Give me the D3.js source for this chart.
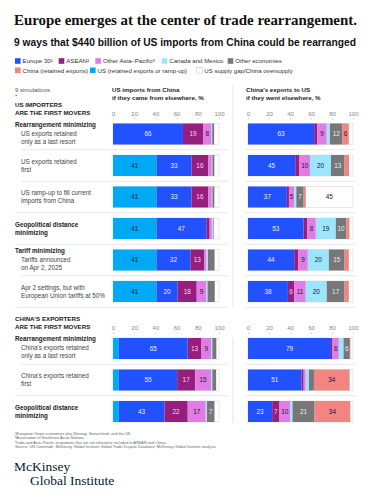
<!DOCTYPE html>
<html>
<head>
<meta charset="utf-8">
<script src="https://cdn.jsdelivr.net/npm/d3@7"></script>
<style>
  body { margin: 0; background: #fff; }
  svg { display: block; }
  text { font-family: "Liberation Sans", Arial, sans-serif; }
  text.serif { font-family: "Liberation Serif", "Times New Roman", serif; }
</style>
</head>
<body>
<div id="chart-container"></div>
<script>
// Series keys, in stacking order
const keys = ["us", "europe", "asean", "otherAP", "canMex", "other", "china", "gap"];
const legendNames = {
  europe: "Europe 30¹", asean: "ASEAN²", otherAP: "Other Asia–Pacific³",
  canMex: "Canada and Mexico", other: "Other economies",
  china: "China (retained exports)", us: "US (retained exports or ramp-up)",
  gap: "US supply gap/China oversupply"
};
const colors = {
  us: "#00a9f4", europe: "#2251ff", asean: "#961f7d", otherAP: "#e07ce4",
  canMex: "#9ce5fd", other: "#777777", china: "#f28482", gap: "#ffffff"
};

// Row labels (9 simulations)
const rowGroups = ["Rearrangement minimizing", "", "", "Geopolitical distance|minimizing",
  "Tariff minimizing", "", "Rearrangement minimizing", "", "Geopolitical distance|minimizing"];
const rowLabels = ["US exports retained|only as a last resort", "US exports retained|first",
  "US ramp-up to fill current|imports from China", "", "Tariffs announced|on Apr 2, 2025",
  "Apr 2 settings, but with|European Union tariffs at 50%",
  "China's exports retained|only as a last resort", "China's exports retained|first", ""];
const rowSection = [0, 0, 0, 0, 0, 0, 1, 1, 1];

// Left panel: US imports from China if they came from elsewhere, %
// (unlabeled slivers are estimates, so they carry decimals)
const leftUs      = [0, 41, 41, 41, 41, 41, 5.5, 5.5, 5.5];
const leftEurope  = [66, 33, 33, 47, 32, 20, 65, 55, 43];
const leftAsean   = [19, 16, 16, 3.2, 13, 18, 13, 17, 22];
const leftOtherAP = [8, 3.2, 3.2, 2.1, 2.2, 9, 9, 15, 17];
const leftCanMex  = [0.6, 0.6, 0.6, 1.5, 1.4, 1.2, 1.2, 1.2, 1.2];
const leftOther   = [1.8, 1.8, 1.8, 0.5, 6.2, 6.8, 3.8, 3.6, 7];
const leftChina   = [0, 0, 0, 0, 0, 0, 0, 0, 0];
const leftGap     = [4.6, 4.4, 4.4, 4.7, 4.2, 4, 2.5, 2.7, 4.3];

// Right panel: China's exports to US if they went elsewhere, %
const rightUs      = [0, 0, 0, 0, 0, 0, 0, 0, 0];
const rightEurope  = [63, 45, 37, 53, 44, 38, 79, 51, 23];
const rightAsean   = [3, 4, 2, 3.6, 4, 6, 1.5, 2, 7];
const rightOtherAP = [9, 10, 5, 8, 9, 11, 6, 2, 10];
const rightCanMex  = [3, 20, 2, 19, 20, 20, 4.5, 3, 2.4];
const rightOther   = [12, 13, 7, 10, 15, 17, 6, 4.8, 21];
const rightChina   = [6, 4.2, 2, 3, 4, 4, 0.5, 34, 34];
const rightGap     = [4, 3.8, 45, 3.4, 4, 4, 2.5, 3.2, 2.6];

const ticks = [0, 20, 40, 60, 80, 100];

const footnotes = [
  "¹European Union economies plus Norway, Switzerland, and the UK.",
  "²Association of Southeast Asian Nations.",
  "³India and Asia–Pacific economies that are not otherwise included in ASEAN and China.",
  "Source: UN Comtrade; McKinsey Global Institute Global Trade Dispute Database; McKinsey Global Institute analysis"
];

// Build row objects for d3.stack
function buildRows(s) {
  return rowLabels.map((_, i) => {
    const o = { i };
    keys.forEach(k => o[k] = s[k][i]);
    return o;
  });
}
const leftData = buildRows({ us: leftUs, europe: leftEurope, asean: leftAsean, otherAP: leftOtherAP,
  canMex: leftCanMex, other: leftOther, china: leftChina, gap: leftGap });
const rightData = buildRows({ us: rightUs, europe: rightEurope, asean: rightAsean, otherAP: rightOtherAP,
  canMex: rightCanMex, other: rightOther, china: rightChina, gap: rightGap });

const W = 373, H = 500;
const svg = d3.select("#chart-container").append("svg")
  .attr("width", W).attr("height", H);

// Title and subtitle
svg.append("text").attr("class", "serif").attr("x", 14).attr("y", 25)
  .attr("textLength", 343).attr("lengthAdjust", "spacingAndGlyphs")
  .style("font-size", "15.5px").style("font-weight", "bold").attr("fill", "#111")
  .text("Europe emerges at the center of trade rearrangement.");
svg.append("text").attr("x", 14).attr("y", 45.5)
  .attr("textLength", 342).attr("lengthAdjust", "spacingAndGlyphs")
  .style("font-size", "10.2px").style("font-weight", "bold").attr("fill", "#111")
  .text("9 ways that $440 billion of US imports from China could be rearranged");

// Legend
const legendItems = [
  { k: "europe", x: 15, y: 61 }, { k: "asean", x: 58.7, y: 61 }, { k: "otherAP", x: 95.3, y: 61 },
  { k: "canMex", x: 161.7, y: 61 }, { k: "other", x: 227.7, y: 61 },
  { k: "china", x: 15, y: 70.3 }, { k: "us", x: 90, y: 70.3 }, { k: "gap", x: 196.7, y: 70.3 }
];
const lg = svg.append("g").selectAll("g").data(legendItems).join("g")
  .attr("transform", d => `translate(${d.x},${d.y})`);
lg.append("rect").attr("x", 0).attr("y", -2.8).attr("width", 5.6).attr("height", 5.6)
  .attr("fill", d => colors[d.k]).attr("stroke", d => d.k === "gap" ? "#ccc" : "none").attr("stroke-width", 0.6);
lg.append("text").attr("x", 7.6).attr("y", 2.2).style("font-size", "6.1px").attr("fill", "#333")
  .text(d => legendNames[d.k]);

// Column headers
svg.append("text").attr("x", 15).attr("y", 91.5).style("font-size", "6px")
  .attr("fill", "#555").text("9 simulations");
svg.append("circle").attr("cx", 16.2).attr("cy", 95.5).attr("r", 0.7).attr("fill", "#555");

const colHeads = [
  { x: 112, lines: ["US imports from China", "if they came from elsewhere, %"] },
  { x: 246, lines: ["China's exports to US", "if they went elsewhere, %"] }
];
colHeads.forEach(h => {
  h.lines.forEach((t, j) => svg.append("text").attr("x", h.x).attr("y", 91.5 + j * 8)
    .style("font-size", "6.2px").style("font-weight", "bold").attr("fill", "#222").text(t));
});

// Section headers
const secHeads = [
  { y: 106.5, lines: ["US IMPORTERS", "ARE THE FIRST MOVERS"] },
  { y: 321.3, lines: ["CHINA'S EXPORTERS", "ARE THE FIRST MOVERS"] }
];
secHeads.forEach(h => {
  h.lines.forEach((t, j) => svg.append("text").attr("x", 15).attr("y", h.y + j * 8)
    .style("font-size", "6.2px").style("font-weight", "bold").attr("fill", "#222").text(t));
});

// Scales
const xLeft = d3.scaleLinear().domain([0, 100]).range([113, 219]);
const xRight = d3.scaleLinear().domain([0, 100]).range([248, 353]);
const yScales = [
  d3.scaleBand().domain([0, 1, 2, 3, 4, 5]).range([118.25, 307.25]).paddingInner(1 / 3).paddingOuter(1 / 6),
  d3.scaleBand().domain([6, 7, 8]).range([332.75, 427.25]).paddingInner(1 / 3).paddingOuter(1 / 6)
];
const yRow = i => yScales[rowSection[i]](i);
const bh = yScales[0].bandwidth();
const axisY = [119.5, 334.3];

// Axes
[xLeft, xRight].forEach(x => {
  axisY.forEach(ay => {
    const g = svg.append("g").attr("transform", `translate(0,${ay})`)
      .call(d3.axisTop(x).tickValues(ticks).tickSize(1.8).tickPadding(2.2));
    g.select(".domain").remove();
    g.selectAll(".tick line").attr("stroke", "#bbb").attr("stroke-width", 0.6);
    g.selectAll(".tick text").attr("fill", "#888").style("font-size", "6px")
      .style("font-family", "'Liberation Sans', Arial, sans-serif");
  });
});

// Vertical divider
[[85, 307], [337.5, 423]].forEach(([a, b]) => {
  svg.append("line").attr("x1", 233).attr("x2", 233).attr("y1", a).attr("y2", b)
    .attr("stroke", "#ddd").attr("stroke-width", 0.8);
});

// Row separators
rowLabels.forEach((_, i) => {
  if (i === rowLabels.length - 1) return;
  const y = yRow(i) + bh + bh / 4;
  const sameGroup = i + 1 < rowLabels.length && rowSection[i + 1] === rowSection[i] && !rowGroups[i + 1];
  svg.append("line").attr("x1", sameGroup ? 21 : 15).attr("x2", 228).attr("y1", y).attr("y2", y)
    .attr("stroke", "#e2e2e2").attr("stroke-width", 0.8);
  svg.append("line").attr("x1", 245).attr("x2", 356).attr("y1", y).attr("y2", y)
    .attr("stroke", "#e2e2e2").attr("stroke-width", 0.8);
});

// Row labels
rowLabels.forEach((lab, i) => {
  const top = yRow(i);
  const grp = rowGroups[i] ? rowGroups[i].split("|") : [];
  const sub = lab ? lab.split("|") : [];
  if (grp.length && sub.length) {
    svg.append("text").attr("x", 15).attr("y", top + 3.3).style("font-size", "6.3px")
      .style("font-weight", "bold").attr("fill", "#222").text(grp[0]);
    sub.forEach((t, j) => svg.append("text").attr("x", 21).attr("y", top + 12 + j * 8)
      .style("font-size", "6.3px").attr("fill", "#444").text(t));
  } else if (grp.length) {
    grp.forEach((t, j) => svg.append("text").attr("x", 15).attr("y", top + 8.8 + j * 8)
      .style("font-size", "6.3px").style("font-weight", "bold").attr("fill", "#222").text(t));
  } else {
    sub.forEach((t, j) => svg.append("text").attr("x", 21).attr("y", top + 8.8 + j * 8)
      .style("font-size", "6.3px").attr("fill", "#444").text(t));
  }
});

// Stacked bars
const stack = d3.stack().keys(keys);
const darkText = new Set(["europe", "asean", "other"]);

function drawPanel(data, x) {
  const g = svg.append("g");
  // outline box for each bar
  g.selectAll("rect.box").data(data).join("rect").attr("class", "box")
    .attr("x", x(0)).attr("y", d => yRow(d.i)).attr("width", x(100) - x(0)).attr("height", bh)
    .attr("fill", "#fff").attr("stroke", "#ddd").attr("stroke-width", 0.7);

  const series = g.selectAll("g.s").data(stack(data)).join("g").attr("class", "s");
  series.selectAll("rect").data(s => s.map(p => ({ key: s.key, p })).filter(d => d.key !== "gap"))
    .join("rect")
    .attr("x", d => x(d.p[0])).attr("y", d => yRow(d.p.data.i))
    .attr("width", d => Math.max(0, x(d.p[1]) - x(d.p[0]))).attr("height", bh)
    .attr("fill", d => colors[d.key]);

  series.selectAll("text").data(s => s.map(p => ({ key: s.key, p, v: p[1] - p[0] }))
      .filter(d => d.v >= 5 && Math.abs(d.v - Math.round(d.v)) < 1e-6))
    .join("text")
    .attr("x", d => (x(d.p[0]) + x(d.p[1])) / 2).attr("y", d => yRow(d.p.data.i) + bh / 2 + 2.2)
    .attr("text-anchor", "middle").style("font-size", "6.4px")
    .attr("fill", d => darkText.has(d.key) ? (d.key === "asean" ? "#f4d6ec" : "#e8ecff") : "#1a1a2e")
    .text(d => Math.round(d.v));
}
drawPanel(leftData, xLeft);
drawPanel(rightData, xRight);

// Footnotes
footnotes.forEach((t, j) => svg.append("text").attr("x", 15).attr("y", 435 + j * 4.45)
  .style("font-size", "3.9px").attr("fill", "#666").text(t));

// Logo
const logo = svg.append("g").attr("fill", "#051c2c");
logo.append("text").attr("class", "serif").attr("x", 14).attr("y", 471)
  .style("font-size", "13.5px").text("McKinsey");
logo.append("text").attr("class", "serif").attr("x", 30).attr("y", 484.5)
  .style("font-size", "13.5px").text("Global Institute");
</script>
</body>
</html>
